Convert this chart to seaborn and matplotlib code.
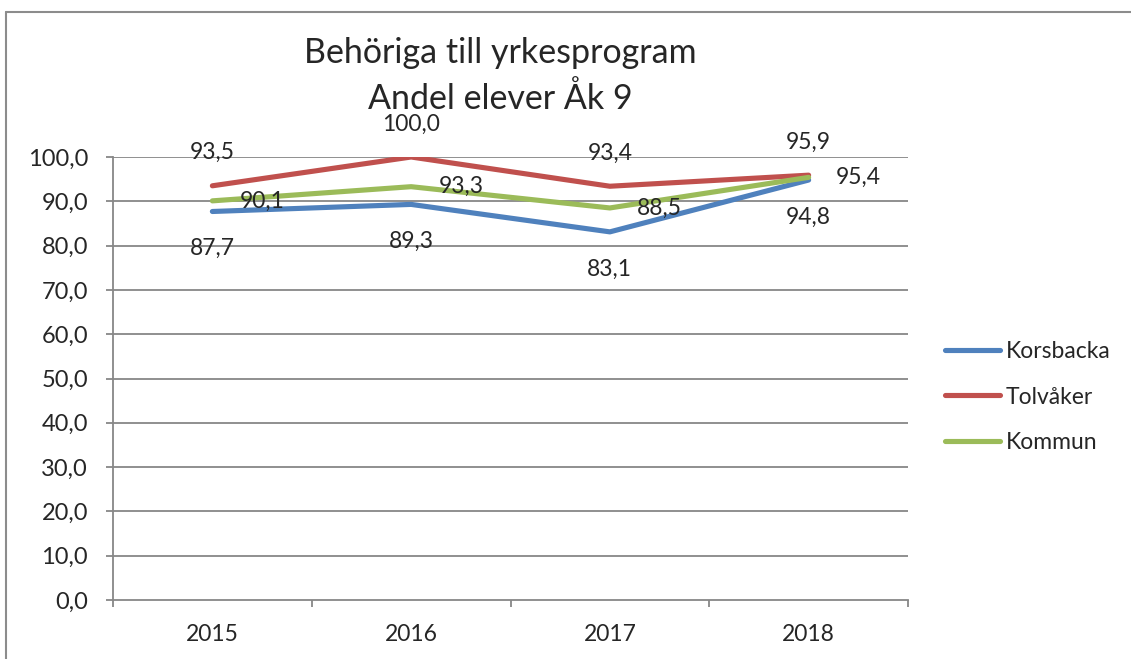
import numpy as np
import pandas as pd
import matplotlib
matplotlib.use("Agg")
import matplotlib.pyplot as plt
from matplotlib.lines import Line2D
import seaborn as sns

YEARS = ["2015", "2016", "2017", "2018"]
KORSBACKA = [87.7, 89.3, 83.1, 94.8]
TOLVAKER = [93.5, 100.0, 93.4, 95.9]
KOMMUN = [90.1, 93.3, 88.5, 95.4]
SERIES = ["Korsbacka", "Tolvåker", "Kommun"]
COLORS = {"Korsbacka": "#4F81BD", "Tolvåker": "#C0504D", "Kommun": "#9BBB59"}

sns.set_theme(style="white")
plt.rcParams["font.family"] = ["Lato", "DejaVu Sans"]

df = pd.DataFrame({
    "year": YEARS * 3,
    "value": KORSBACKA + TOLVAKER + KOMMUN,
    "serie": [s for s in SERIES for _ in YEARS],
})
df["pos"] = df["year"].map({y: i for i, y in enumerate(YEARS)})

W, H = 1131, 659
fig = plt.figure(figsize=(W / 100, H / 100), dpi=100)
ax = fig.add_axes([113 / W, 1 - 600 / H, (908 - 113) / W, (600 - 157) / H])

grid_c = "#878787"
for v in range(10, 101, 10):
    ax.axhline(v, color=grid_c, lw=1.3, zorder=1)

sns.lineplot(data=df, x="pos", y="value", hue="serie", palette=COLORS,
             hue_order=SERIES, lw=3.7, ax=ax, legend=False, zorder=3,
             solid_capstyle="round", sort=False)

ax.set_xlim(-0.5, 3.5)
ax.set_ylim(0, 100)
ax.set_xlabel("")
ax.set_ylabel("")

ax.set_yticks(np.arange(0, 101, 10))
ax.set_yticklabels([f"{v:.1f}".replace(".", ",") for v in range(0, 101, 10)])
ax.set_xticks(range(len(YEARS)))
ax.set_xticklabels(YEARS)
ax.set_xticks(np.arange(-0.5, 3.6, 1), minor=True)
ax.tick_params(axis="x", which="major", length=0, pad=17, labelsize=16.5)
ax.tick_params(axis="x", which="minor", length=5, color=grid_c, width=1.3,
               direction="out", bottom=True)
ax.tick_params(axis="y", length=5, color=grid_c, width=1.3, direction="out",
               left=True, labelsize=17, pad=13)

for side in ["top", "right"]:
    ax.spines[side].set_visible(False)
for side in ["left", "bottom"]:
    ax.spines[side].set_color(grid_c)
    ax.spines[side].set_linewidth(1.3)

# data labels
def fmt(v):
    return f"{v:.1f}".replace(".", ",")

for i, v in enumerate(TOLVAKER):
    ax.annotate(fmt(v), (i, v), xytext=(0, 33), textcoords="offset pixels",
                ha="center", va="center", fontsize=16.5, zorder=5)
for i, v in enumerate(KORSBACKA):
    ax.annotate(fmt(v), (i, v), xytext=(0, -37), textcoords="offset pixels",
                ha="center", va="center", fontsize=16.5, zorder=5)
for i, v in enumerate(KOMMUN):
    ax.annotate(fmt(v), (i, v), xytext=(50, 0), textcoords="offset pixels",
                ha="center", va="center", fontsize=16.5, zorder=5)

fig.text(500 / W, 1 - 53 / H, "Behöriga till yrkesprogram",
         ha="center", va="center", fontsize=24.5)
fig.text(500 / W, 1 - 99 / H, "Andel elever Åk 9",
         ha="center", va="center", fontsize=24.5)

handles = [Line2D([0], [0], color=COLORS[s], lw=3.7, solid_capstyle="round")
           for s in SERIES]
fig.legend(handles, SERIES, loc="center left",
           bbox_to_anchor=(945 / W, 1 - 397 / H), frameon=False,
           borderpad=0, borderaxespad=0,
           fontsize=16.5, handlelength=2.4, handletextpad=0.25, labelspacing=1.05)

# outer frame (cropped on right and bottom like the source)
fig.add_artist(Line2D([6 / W, 6 / W], [0, 1 - 12 / H], color="#8C8C8C",
                      lw=1.5, transform=fig.transFigure))
fig.add_artist(Line2D([6 / W, 1], [1 - 12 / H, 1 - 12 / H], color="#8C8C8C",
                      lw=1.5, transform=fig.transFigure))

fig.savefig("out.png", dpi=100)
